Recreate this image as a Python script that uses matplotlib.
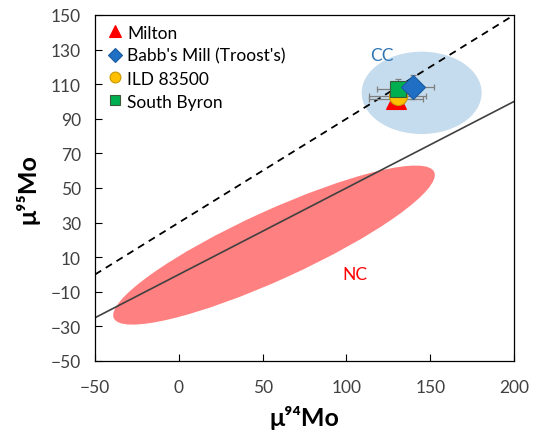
import matplotlib.pyplot as plt
from matplotlib.patches import Ellipse

plt.rcParams['font.family'] = ['Lato', 'DejaVu Sans']

# samples: name, x, y, xerr, yerr
names = ["Milton", "Babb's Mill (Troost's)", "ILD 83500", "South Byron"]
mu94 = [129.5, 140.0, 130.5, 131.0]
mu95 = [101.5, 108.5, 103.0, 107.0]
err94 = [16.0, 12.0, 17.0, 13.0]
err95 = [5.5, 7.0, 5.0, 6.0]

# reference lines (slope, intercept)
dashed_line = (0.6, 30.0)
solid_line = (0.5, 0.0)
line_x = [-50, 200]

# fields: centre, width, height, angle
nc_field = ((56.8, 17.0), 209, 40, 23.8)
cc_field = ((144.9, 105.0), 71.6, 47.6, 0)

fig = plt.figure(figsize=(5.35, 4.35), dpi=100)
ax = fig.add_axes([95 / 535, 1 - 362 / 435, 419 / 535, 346 / 435])

ax.add_patch(Ellipse(cc_field[0], cc_field[1], cc_field[2], angle=cc_field[3],
                     facecolor='#c5dcee', edgecolor='none', zorder=1))
ax.add_patch(Ellipse(nc_field[0], nc_field[1], nc_field[2], angle=nc_field[3],
                     facecolor='#ff8080', edgecolor='none', zorder=1))

ax.plot(line_x, [dashed_line[0] * x + dashed_line[1] for x in line_x],
        color='black', linestyle=(0, (4, 3)), linewidth=1.3, zorder=2)
ax.plot(line_x, [solid_line[0] * x + solid_line[1] for x in line_x],
        color='#404040', linewidth=1.2, zorder=2)

ax.errorbar(mu94, mu95, xerr=err94, yerr=err95, fmt='none', ecolor='#7f7f7f',
            elinewidth=0.9, capsize=2.5, capthick=0.9, zorder=3)

styles = [
    dict(marker='^', color='#ff0000', mec='#ff0000', ms=14, z=4),
    dict(marker='D', color='#1f6fc5', mec='#1a5a9e', ms=12, z=7),
    dict(marker='o', color='#ffc000', mec='#c99700', ms=13, z=5),
    dict(marker='s', color='#00b050', mec='#3a5a3a', ms=11, z=6),
]
for name, x, y, st in zip(names, mu94, mu95, styles):
    ax.plot([x], [y], linestyle='none', marker=st['marker'], markersize=st['ms'],
            markerfacecolor=st['color'], markeredgecolor=st['mec'],
            markeredgewidth=0.8, label=name, zorder=st['z'])

ax.text(121, 127, 'CC', color='#2e75b6', fontsize=12.5, ha='center', va='center')
ax.text(105, 0, 'NC', color='#ff0000', fontsize=12.5, ha='center', va='center')

ax.set_xlim(-50, 200)
ax.set_ylim(-50, 150)
ax.set_xticks(range(-50, 201, 50))
ax.set_yticks(range(-50, 151, 20))
ax.tick_params(direction='in', length=5, labelsize=12.5, labelcolor='#404040')
ax.tick_params(axis='x', pad=13)
ax.tick_params(axis='y', pad=10)
for s in ax.spines.values():
    s.set_linewidth(0.9)

ax.set_xlabel('μ⁹⁴Mo', fontsize=18, fontweight='bold', labelpad=7)
ax.set_ylabel('μ⁹⁵Mo', fontsize=18, fontweight='bold', labelpad=8)

ax.legend(loc='upper left', frameon=False, fontsize=12.5, markerscale=0.6,
          handletextpad=0.1, handlelength=1.2, labelspacing=0.4,
          borderaxespad=0.15, bbox_to_anchor=(0.0, 1.0))

fig.savefig('out.png', dpi=100)
